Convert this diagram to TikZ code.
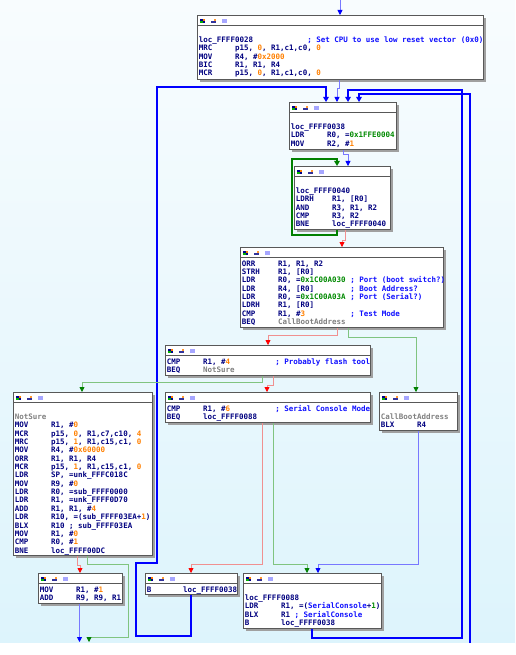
\documentclass[tikz,border=0pt]{standalone}
\usepackage{fontspec}
\setmonofont{DejaVu Sans Mono}
\usetikzlibrary{arrows.meta,shadows}

\definecolor{insn}{HTML}{000080}
\definecolor{cmtc}{HTML}{1010FF}
\definecolor{numc}{HTML}{FF8000}
\definecolor{cstc}{HTML}{008A00}
\definecolor{grayc}{HTML}{808080}
\definecolor{bgtop}{HTML}{F8FCFE}
\definecolor{bgbot}{HTML}{DDF4FC}
\definecolor{brd}{HTML}{585858}
\definecolor{shd}{HTML}{A0A0A0}
\definecolor{edgeb}{HTML}{0000FF}
\definecolor{edgebl}{HTML}{7878FF}
\definecolor{edger}{HTML}{FF0000}
\definecolor{edgerl}{HTML}{F09090}
\definecolor{edgeg}{HTML}{008000}
\definecolor{edgegl}{HTML}{80C480}

\newlength\cw \setlength\cw{4.515pt}
\newcommand\blkfont{\ttfamily\bfseries\fontsize{7.5}{8.35}\selectfont}
\newcommand\st{\rule[-2.35pt]{0pt}{8.35pt}}
\newcommand\blk[3]{\makebox[#1pt][l]{\parbox[t][#2pt][t]{\dimexpr#1pt+60pt\relax}{%
  \baselineskip=8.35pt\lineskiplimit=-20pt\raggedright\vspace*{12.7pt}\st #3}}}
\newcommand\op[2]{\makebox[8\cw][l]{#1}#2}
\newcommand\icol[2]{\makebox[24\cw][l]{#1}\textcolor{cmtc}{; #2}}
\newcommand\inum[1]{\textcolor{numc}{#1}}
\newcommand\icst[1]{\textcolor{cstc}{#1}}
\newcommand\igray[1]{\textcolor{grayc}{#1}}
\newcommand\icmt[1]{\textcolor{cmtc}{#1}}
% header strip with the three little icons
\newcommand\blkhead{%
  \coordinate (hnw) at (path picture bounding box.north west);
  \coordinate (hne) at (path picture bounding box.north east);
  \draw[brd,line width=0.5pt] ([yshift=-10pt]hnw) -- ([yshift=-10pt]hne);
  \fill[blue!55!black] ([shift={(3pt,-3.8pt)}]hnw) rectangle ([shift={(8pt,-7.4pt)}]hnw);
  \fill[green!70!black] ([shift={(3pt,-5.8pt)}]hnw) rectangle ([shift={(5.5pt,-7.4pt)}]hnw);
  \fill[orange] ([shift={(6pt,-3.8pt)}]hnw) rectangle ([shift={(8pt,-5.4pt)}]hnw);
  \fill[insn!80] ([shift={(14pt,-5.5pt)}]hnw) rectangle ([shift={(19pt,-7.4pt)}]hnw);
  \fill[orange!80] ([shift={(17pt,-4pt)}]hnw) rectangle ([shift={(19pt,-5.5pt)}]hnw);
  \fill[blue!35] ([shift={(25pt,-3.8pt)}]hnw) rectangle ([shift={(30pt,-7.4pt)}]hnw);
}

\begin{document}
\begin{tikzpicture}[x=1pt,y=-1pt,
  blk/.style={draw=brd,line width=0.8pt,fill=white,inner xsep=1.5pt,inner ysep=0pt,
    anchor=north west,font=\blkfont,text=insn,
    drop shadow={shadow xshift=2.5pt,shadow yshift=-2.5pt,fill=shd,opacity=1},
    path picture={\blkhead}},
  thinblue/.style={draw=edgebl,line width=0.8pt,-{Triangle[width=5pt,length=5pt,color=edgeb]}},
  boldblue/.style={draw=edgeb,line width=1.6pt,-{Triangle[width=5.5pt,length=5pt]}},
  thinred/.style={draw=edgerl,line width=0.8pt,-{Triangle[width=5pt,length=5pt,color=edger]}},
  thingreen/.style={draw=edgegl,line width=0.8pt,-{Triangle[width=5pt,length=5pt,color=edgeg]}},
  boldgreen/.style={draw=edgeg,line width=1.6pt,-{Triangle[width=5.5pt,length=5pt]}}]
\useasboundingbox (0,0) rectangle (515,655);
\shade[top color=bgtop,bottom color=bgbot] (0,0) rectangle (515,643);
\fill[white] (0,643) rectangle (515,655);

\node[blk] (loc28) at (197,15) {\blk{283}{64}{\mbox{}\\
\icol{loc\_FFFF0028}{Set CPU to use low reset vector (0x0)}\\
\op{MRC}{p15, \inum{0}, R1,c1,c0, \inum{0}}\\
\op{MOV}{R4, \#\inum{0x2000}}\\
\op{BIC}{R1, R1, R4}\\
\op{MCR}{p15, \inum{0}, R1,c1,c0, \inum{0}}}};

\node[blk] (loc38) at (289,102) {\blk{104}{47}{\mbox{}\\
loc\_FFFF0038\\
\op{LDR}{R0, =\icst{0x1FFE0004}}\\
\op{MOV}{R2, \#\inum{1}}}};

\node[blk] (loc40) at (294,166) {\blk{93}{63}{\mbox{}\\
loc\_FFFF0040\\
\op{LDRH}{R1, [R0]}\\
\op{AND}{R3, R1, R2}\\
\op{CMP}{R3, R2}\\
\op{BNE}{loc\_FFFF0040}}};

\node[blk] (chk) at (240,247) {\blk{200}{80}{%
\op{ORR}{R1, R1, R2}\\
\op{STRH}{R1, [R0]}\\
\icol{\op{LDR}{R0, =\icst{0x1C00A030}}}{Port (boot switch?)}\\
\icol{\op{LDR}{R4, [R0]}}{Boot Address?}\\
\icol{\op{LDR}{R0, =\icst{0x1C00A03A}}}{Port (Serial?)}\\
\op{LDRH}{R1, [R0]}\\
\icol{\op{CMP}{R1, \#\inum{3}}}{Test Mode}\\
\op{BEQ}{\igray{CallBootAddress}}}};

\node[blk] (flash) at (165,345) {\blk{202}{30}{%
\icol{\op{CMP}{R1, \#\inum{4}}}{Probably flash tool}\\
\op{BEQ}{\igray{NotSure}}}};

\node[blk] (serial) at (165,392) {\blk{202}{30}{%
\icol{\op{CMP}{R1, \#\inum{6}}}{Serial Console Mode}\\
\op{BEQ}{loc\_FFFF0088}}};

\node[blk] (callboot) at (379,392) {\blk{75}{38}{\mbox{}\\
\igray{CallBootAddress}\\
\op{BLX}{R4}}};

\node[blk] (notsure) at (13,392) {\blk{136}{163}{\mbox{}\\
\igray{NotSure}\\
\op{MOV}{R1, \#\inum{0}}\\
\op{MCR}{p15, \inum{0}, R1,c7,c10, \inum{4}}\\
\op{MRC}{p15, \inum{1}, R1,c15,c1, \inum{0}}\\
\op{MOV}{R4, \#\inum{0x60000}}\\
\op{ORR}{R1, R1, R4}\\
\op{MCR}{p15, \inum{1}, R1,c15,c1, \inum{0}}\\
\op{LDR}{SP, =unk\_FFFC018C}\\
\op{MOV}{R9, \#\inum{0}}\\
\op{LDR}{R0, =sub\_FFFF0000}\\
\op{LDR}{R1, =unk\_FFFF0D70}\\
\op{ADD}{R1, R1, \#\inum{4}}\\
\op{LDR}{R10, =(sub\_FFFF03EA+\inum{1})}\\
\op{BLX}{R10 ; sub\_FFFF03EA}\\
\op{MOV}{R1, \#\inum{0}}\\
\op{CMP}{R0, \#\inum{1}}\\
\op{BNE}{loc\_FFFF00DC}}};

\node[blk] (movadd) at (38,573) {\blk{81}{30}{%
\op{MOV}{R1, \#\inum{1}}\\
\op{ADD}{R9, R9, R1}}};

\node[blk] (jmp38) at (145,573) {\blk{89}{21}{%
\op{B}{loc\_FFFF0038}}};

\node[blk] (loc88) at (243,573) {\blk{135}{55}{\mbox{}\\
loc\_FFFF0088\\
\op{LDR}{R1, =(\icmt{SerialConsole}+\icst{1})}\\
\op{BLX}{R1 \icmt{; SerialConsole}}\\
\op{B}{loc\_FFFF0038}}};

% free ends (blocks outside the view)
\coordinate (entry) at (340,0);
\coordinate (offdc) at (470,643);
\coordinate (offgreen) at (89,642);
\coordinate (offblue) at (79.5,642);

\draw[thinblue] (entry) -- (340,0 |- loc28.north);
\draw[thinblue] (339,0 |- loc28.south) -- (339,88) -- (337,88) -- (337,0 |- loc38.north);
% loops back to loc_FFFF0038
\draw[boldblue] (191,0 |- jmp38.south) -- (191,636) -- (136,636) -- (136,563) -- (157,563)
  -- (157,87) -- (326,87) -- (326,0 |- loc38.north);
\draw[boldblue] (312,0 |- loc88.south) -- (312,638) -- (462,638) -- (462,90) -- (348,90)
  -- (348,0 |- loc38.north);
\draw[boldblue] (offdc) -- (470,94) -- (359,94) -- (359,0 |- loc38.north);

\draw[thinblue] (343,0 |- loc38.south) -- (343,154) -- (348,154) -- (348,0 |- loc40.north);
\draw[boldgreen] (337,0 |- loc40.south) -- (337,235) -- (292,235) -- (292,159) -- (337,159)
  -- (337,0 |- loc40.north);
\draw[thinred] (345,0 |- loc40.south) -- (345,240) -- (342,240) -- (342,0 |- chk.north);

\draw[thinred] (337,0 |- chk.south) -- (337,335) -- (268,335) -- (268,0 |- flash.north);
\draw[thingreen] (348,0 |- chk.south) -- (348,337) -- (416,337) -- (416,0 |- callboot.north);

\draw[thingreen] (262,0 |- flash.south) -- (262,382) -- (82,382) -- (82,0 |- notsure.north);
\draw[thinred] (273,0 |- flash.south) -- (273,385) -- (267,385) -- (267,0 |- serial.north);

\draw[thinred] (262,0 |- serial.south) -- (262,564) -- (191,564) -- (191,0 |- jmp38.north);
\draw[thingreen] (273,0 |- serial.south) -- (273,564) -- (307,564) -- (307,0 |- loc88.north);
\draw[thinblue] (418,0 |- callboot.south) -- (418,564) -- (318,564) -- (318,0 |- loc88.north);

\draw[thinred] (77,0 |- notsure.south) -- (77,565) -- (80,565) -- (80,0 |- movadd.north);
\draw[thingreen] (87,0 |- notsure.south) -- (87,564) -- (128,564) -- (128,637) -- (89,637) -- (offgreen);
\draw[thinblue] (79.5,0 |- movadd.south) -- (offblue);
\end{tikzpicture}
\end{document}
